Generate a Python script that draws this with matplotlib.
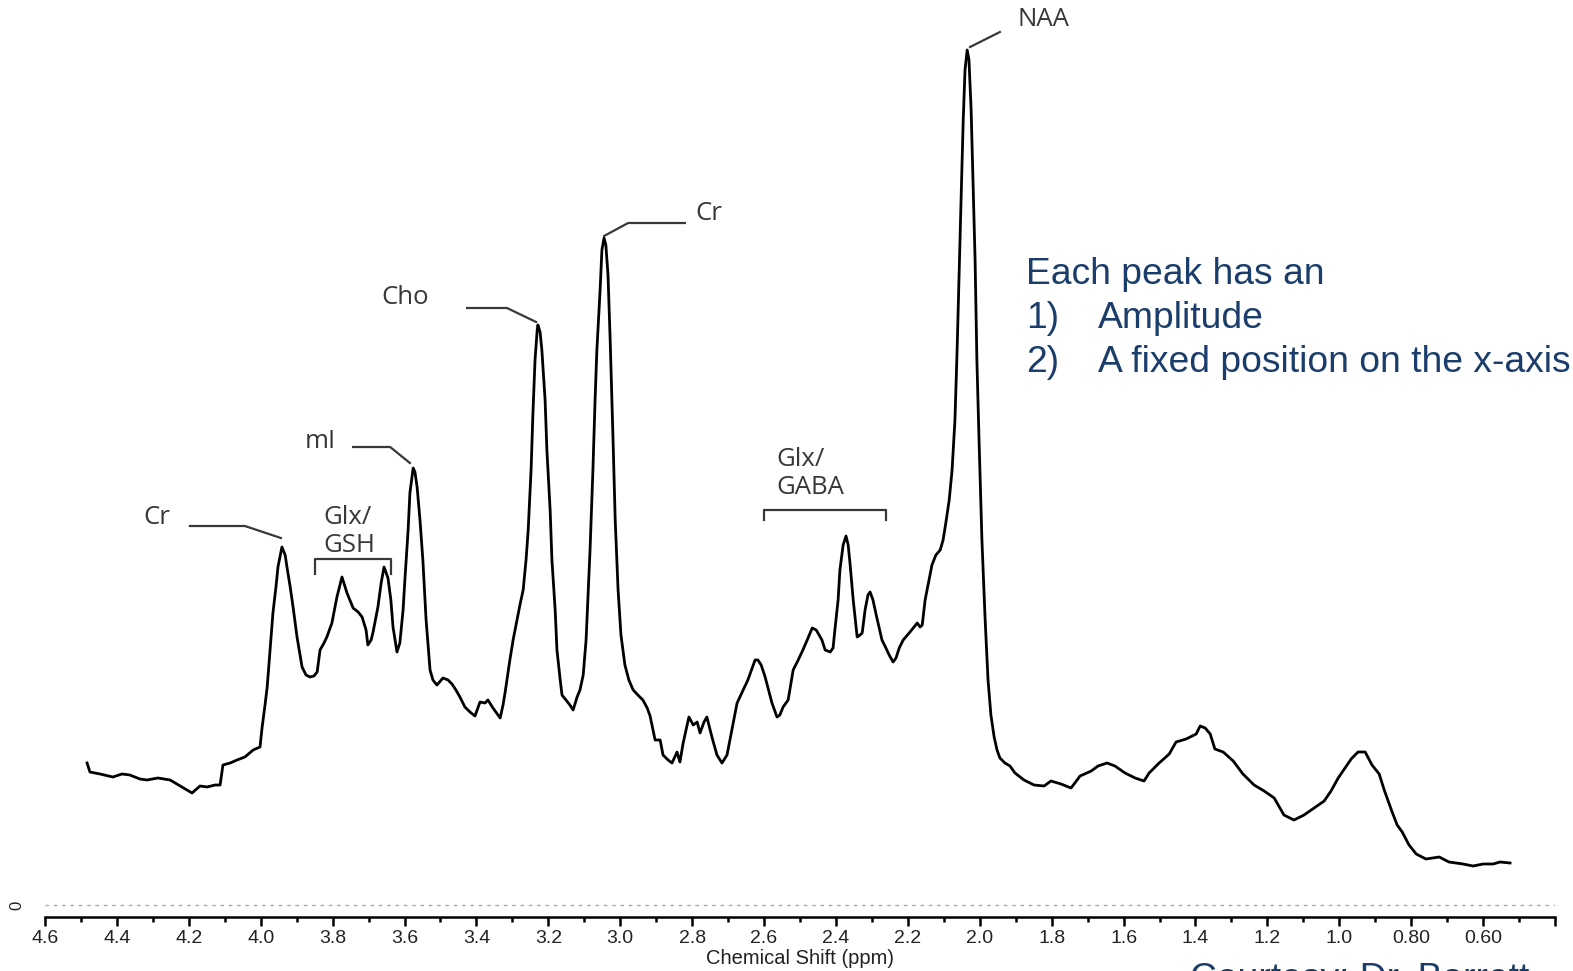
import numpy as np
import matplotlib.pyplot as plt
from matplotlib.ticker import FixedLocator

# spectrum: chemical shift (ppm) and signal (a.u.)
ppm = [4.483, 4.475, 4.447, 4.411, 4.386, 4.364, 4.336, 4.316, 4.286, 4.252,
       4.224, 4.191, 4.169, 4.149, 4.127, 4.113, 4.105, 4.085, 4.066, 4.044,
       4.021, 4.002, 3.996, 3.988, 3.982, 3.974, 3.966, 3.957, 3.952, 3.941,
       3.932, 3.927, 3.918, 3.910, 3.899, 3.885, 3.874, 3.863, 3.852, 3.843,
       3.835, 3.824, 3.816, 3.802, 3.788, 3.774, 3.760, 3.743, 3.729, 3.718,
       3.707, 3.702, 3.693, 3.688, 3.674, 3.665, 3.657, 3.646, 3.638, 3.632,
       3.621, 3.613, 3.604, 3.599, 3.590, 3.585, 3.576, 3.571, 3.565, 3.557,
       3.549, 3.540, 3.529, 3.521, 3.510, 3.493, 3.479, 3.468, 3.457, 3.446,
       3.432, 3.418, 3.404, 3.390, 3.376, 3.368, 3.354, 3.334, 3.326, 3.320,
       3.307, 3.298, 3.287, 3.279, 3.270, 3.262, 3.256, 3.248, 3.243, 3.237,
       3.231, 3.229, 3.223, 3.218, 3.209, 3.204, 3.195, 3.190, 3.181, 3.176,
       3.167, 3.162, 3.151, 3.140, 3.131, 3.120, 3.112, 3.103, 3.095, 3.090,
       3.084, 3.076, 3.070, 3.065, 3.056, 3.051, 3.045, 3.040, 3.034, 3.028,
       3.020, 3.014, 3.006, 2.998, 2.987, 2.976, 2.964, 2.951, 2.937, 2.925,
       2.917, 2.903, 2.889, 2.881, 2.867, 2.856, 2.842, 2.834, 2.825, 2.809,
       2.797, 2.786, 2.778, 2.767, 2.759, 2.745, 2.731, 2.717, 2.703, 2.695,
       2.675, 2.658, 2.645, 2.633, 2.625, 2.617, 2.608, 2.597, 2.578, 2.564,
       2.556, 2.547, 2.533, 2.519, 2.505, 2.492, 2.480, 2.466, 2.455, 2.450,
       2.439, 2.430, 2.416, 2.408, 2.403, 2.394, 2.389, 2.380, 2.372, 2.366,
       2.361, 2.352, 2.341, 2.333, 2.327, 2.319, 2.311, 2.305, 2.297, 2.288,
       2.272, 2.261, 2.252, 2.241, 2.233, 2.224, 2.213, 2.194, 2.174, 2.166,
       2.160, 2.152, 2.141, 2.133, 2.122, 2.110, 2.102, 2.094, 2.085, 2.077,
       2.069, 2.063, 2.058, 2.052, 2.046, 2.041, 2.035, 2.030, 2.024, 2.019,
       2.013, 2.008, 2.002, 1.994, 1.985, 1.977, 1.969, 1.960, 1.952, 1.944,
       1.930, 1.916, 1.902, 1.877, 1.849, 1.821, 1.802, 1.774, 1.746, 1.721,
       1.690, 1.671, 1.646, 1.624, 1.596, 1.568, 1.543, 1.529, 1.501, 1.473,
       1.454, 1.426, 1.398, 1.387, 1.373, 1.359, 1.346, 1.323, 1.295, 1.268,
       1.237, 1.209, 1.181, 1.154, 1.126, 1.098, 1.070, 1.042, 1.023, 1.003,
       0.984, 0.967, 0.948, 0.928, 0.909, 0.889, 0.875, 0.853, 0.839, 0.825,
       0.806, 0.786, 0.759, 0.722, 0.695, 0.656, 0.628, 0.600, 0.572, 0.553,
       0.525]
signal = [142, 133, 131, 128, 131, 130, 126, 125, 127, 125,
          119, 112, 119, 118, 120, 120, 140, 142, 145, 148,
          155, 158, 178, 200, 218, 255, 292, 320, 338, 358,
          350, 338, 318, 298, 268, 238, 230, 228, 229, 233,
          255, 262, 268, 282, 308, 328, 312, 297, 293, 288,
          275, 260, 265, 272, 298, 322, 338, 327, 305, 278,
          253, 262, 295, 325, 375, 412, 437, 433, 418, 385,
          345, 285, 235, 225, 220, 227, 225, 221, 215, 208,
          198, 193, 189, 203, 202, 205, 197, 187, 200, 213,
          245, 265, 285, 300, 315, 345, 375, 435, 490, 545,
          575, 580, 573, 555, 505, 455, 395, 345, 295, 255,
          225, 210, 205, 200, 195, 208, 215, 230, 265, 305,
          355, 435, 505, 555, 615, 655, 667, 660, 630, 565,
          465, 385, 315, 270, 240, 225, 215, 210, 205, 197,
          189, 165, 165, 150, 145, 142, 153, 143, 162, 188,
          180, 183, 172, 183, 188, 168, 150, 142, 150, 165,
          202, 215, 225, 237, 245, 245, 240, 228, 202, 188,
          190, 198, 205, 235, 245, 255, 265, 277, 275, 272,
          265, 255, 253, 257, 275, 305, 335, 360, 369, 360,
          342, 305, 268, 270, 272, 295, 310, 313, 305, 290,
          265, 257, 250, 243, 247, 257, 265, 273, 282, 278,
          280, 305, 325, 340, 350, 355, 365, 383, 405, 435,
          485, 555, 625, 705, 785, 835, 855, 845, 795, 725,
          645, 545, 465, 365, 285, 225, 190, 168, 155, 147,
          142, 139, 132, 125, 120, 119, 124, 121, 117, 129,
          134, 139, 142, 139, 132, 127, 124, 132, 142, 151,
          163, 166, 171, 179, 177, 171, 156, 153, 144, 131,
          120, 114, 107, 90, 85, 90, 97, 104, 114, 127,
          137, 146, 153, 153, 140, 131, 115, 93, 80, 73,
          60, 51, 46, 48, 43, 41, 39, 41, 41, 43,
          42]

tick_pos = [4.6, 4.4, 4.2, 4.0, 3.8, 3.6, 3.4, 3.2, 3.0, 2.8, 2.6,
            2.4, 2.2, 2.0, 1.8, 1.6, 1.4, 1.2, 1.0, 0.8, 0.6, 0.4]
tick_labels = ["4.6", "4.4", "4.2", "4.0", "3.8", "3.6", "3.4", "3.2", "3.0",
               "2.8", "2.6", "2.4", "2.2", "2.0", "1.8", "1.6", "1.4", "1.2",
               "1.0", "0.80", "0.60", ""]
minor_pos = [4.5, 4.3, 4.1, 3.9, 3.7, 3.5, 3.3, 3.1, 2.9, 2.7, 2.5,
             2.3, 2.1, 1.9, 1.7, 1.5, 1.3, 1.1, 0.9, 0.7, 0.5]

lab_col = "#383838"
lab_font = "Open Sans"
lab_size = 18.5
blue = "#1b3d6b"

fig = plt.figure(figsize=(15.73, 9.71), dpi=100)
ax = fig.add_axes([45 / 1573, 54 / 971, 1510 / 1573, 917 / 971])

ax.plot(ppm, signal, color="black", lw=2.0, solid_joinstyle="round")
ax.axhline(0, color="#aaaaaa", lw=1.0, ls=(0, (2.5, 3.5)))

ax.set_xlim(4.6, 0.4)
ax.set_ylim(-12, 905)
for s in ["top", "right", "left"]:
    ax.spines[s].set_visible(False)
ax.spines["bottom"].set_linewidth(1.8)

ax.set_xticks(tick_pos)
ax.set_xticklabels(tick_labels, fontsize=14, family="Liberation Sans", color="#222222")
ax.xaxis.set_minor_locator(FixedLocator(minor_pos))
ax.tick_params(axis="x", which="major", length=6.5, width=1.8, direction="out", pad=3.0)
ax.tick_params(axis="x", which="minor", length=3.5, width=1.8, direction="out")
ax.set_yticks([])
ax.text(-0.0185, 0, "0", transform=ax.get_yaxis_transform(), rotation=90,
        ha="center", va="center", fontsize=12, family="Liberation Sans", color="#222222")

ax.set_xlabel("Chemical Shift (ppm)", fontsize=14.5, family="Liberation Sans", color="#222222")
ax.xaxis.set_label_coords(0.5, -0.035)

# peak labels with leader lines
ax.text(1.824, 885, "NAA", ha="center", va="center", fontsize=lab_size, family=lab_font, color=lab_col)
ax.plot([2.027, 1.944], [858, 873], color=lab_col, lw=1.6)

ax.text(2.753, 691, "Cr", ha="center", va="center", fontsize=lab_size, family=lab_font, color=lab_col)
ax.plot([3.045, 2.978, 2.820], [669, 682, 682], color=lab_col, lw=1.6)

ax.text(3.599, 607, "Cho", ha="center", va="center", fontsize=lab_size, family=lab_font, color=lab_col)
ax.plot([3.426, 3.315, 3.234], [597, 597, 583], color=lab_col, lw=1.6)

ax.text(3.835, 464, "mI", ha="center", va="center", fontsize=lab_size, family=lab_font, color=lab_col)
ax.plot([3.743, 3.640, 3.585], [458, 458, 442], color=lab_col, lw=1.6)

ax.text(4.288, 388, "Cr", ha="center", va="center", fontsize=lab_size, family=lab_font, color=lab_col)
ax.plot([4.197, 4.044, 3.944], [379, 379, 367], color=lab_col, lw=1.6)

ax.text(3.826, 387, "Glx/", ha="left", va="center", fontsize=lab_size, family=lab_font, color=lab_col)
ax.text(3.826, 360, "GSH", ha="left", va="center", fontsize=lab_size, family=lab_font, color=lab_col)
ax.plot([3.849, 3.849, 3.638, 3.638], [331, 346, 346, 331], color=lab_col, lw=1.6)

ax.text(2.566, 446, "Glx/", ha="left", va="center", fontsize=lab_size, family=lab_font, color=lab_col)
ax.text(2.566, 418, "GABA", ha="left", va="center", fontsize=lab_size, family=lab_font, color=lab_col)
ax.plot([2.600, 2.600, 2.261, 2.261], [385, 395, 395, 385], color=lab_col, lw=1.6)

# slide text
fig.text(1026 / 1573, 1 - 275 / 971, "Each peak has an", fontsize=26.8,
         family="Liberation Sans", color=blue, va="center", ha="left")
fig.text(1026 / 1573, 1 - 318 / 971, "1)", fontsize=26.8,
         family="Liberation Sans", color=blue, va="center", ha="left")
fig.text(1098 / 1573, 1 - 318 / 971, "Amplitude", fontsize=26.8,
         family="Liberation Sans", color=blue, va="center", ha="left")
fig.text(1026 / 1573, 1 - 362 / 971, "2)", fontsize=26.8,
         family="Liberation Sans", color=blue, va="center", ha="left")
fig.text(1098 / 1573, 1 - 362 / 971, "A fixed position on the x-axis", fontsize=26.8,
         family="Liberation Sans", color=blue, va="center", ha="left")
# runs off the bottom edge of the slide, as in the original
fig.text(1190 / 1573, 1 - 962 / 971, "Courtesy: Dr. Barrett", fontsize=26.8,
         family="Liberation Sans", color=blue, va="top", ha="left")

fig.savefig("out.png", dpi=100)
